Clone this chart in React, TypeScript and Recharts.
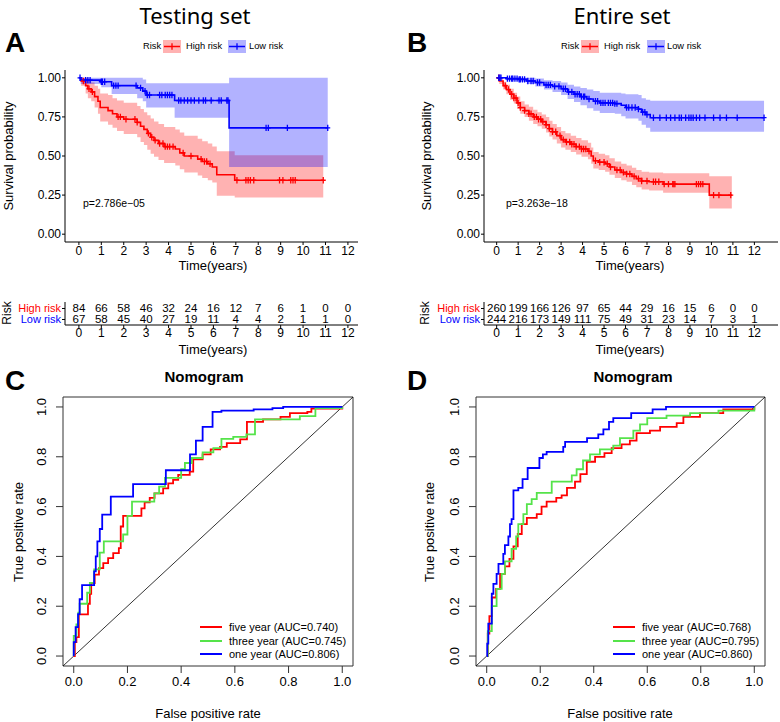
import React from "react";
import {
  ComposedChart,
  LineChart,
  Line,
  Area,
  Scatter,
  XAxis,
  YAxis,
  ReferenceArea,
  ReferenceLine,
} from "recharts";

// ---------- shared ticks ----------
const yearTicks = [0, 1, 2, 3, 4, 5, 6, 7, 8, 9, 10, 11, 12];
const survTicks = [0, 0.25, 0.5, 0.75, 1];
const rocTicks = [0, 0.2, 0.4, 0.6, 0.8, 1];

// ---------- A: testing set, KM ----------
const aHighT = [0, 0.1, 0.3, 0.4, 0.55, 0.7, 0.85, 0.95, 1.3, 1.5, 1.7, 2.0, 2.6, 2.75, 2.9, 3.05, 3.2, 3.35, 3.55, 3.8, 4.3, 4.5, 4.7, 5.3, 5.5, 5.75, 5.95, 6.15, 6.95, 10.9];
const aHighS = [1, 0.98, 0.95, 0.93, 0.91, 0.88, 0.85, 0.81, 0.79, 0.77, 0.75, 0.735, 0.715, 0.69, 0.67, 0.645, 0.62, 0.6, 0.58, 0.56, 0.545, 0.52, 0.5, 0.48, 0.465, 0.45, 0.43, 0.38, 0.345, 0.345];
const aHighLo = [1, 0.95, 0.9, 0.87, 0.85, 0.81, 0.77, 0.72, 0.7, 0.68, 0.66, 0.64, 0.62, 0.59, 0.57, 0.54, 0.515, 0.495, 0.475, 0.455, 0.44, 0.415, 0.395, 0.375, 0.36, 0.345, 0.33, 0.245, 0.235, 0.235];
const aHighUp = [1, 1, 1, 0.99, 0.97, 0.95, 0.93, 0.9, 0.89, 0.87, 0.855, 0.84, 0.82, 0.8, 0.78, 0.76, 0.74, 0.72, 0.705, 0.685, 0.67, 0.65, 0.63, 0.61, 0.595, 0.58, 0.56, 0.53, 0.505, 0.505];
const aHighCens = [0.2, 0.45, 0.6, 1.75, 1.85, 2.1, 2.5, 2.6, 3.1, 3.25, 3.4, 3.6, 3.75, 3.85, 3.95, 4.05, 4.2, 4.65, 5.0, 5.45, 5.6, 5.7, 5.85, 7.05, 7.45, 7.55, 7.65, 7.8, 8.95, 9.1, 9.45, 9.55, 9.65, 10.9];

const aLowT = [0, 0.08, 1.0, 1.46, 2.6, 2.85, 3.0, 4.27, 6.7, 11.1];
const aLowS = [1, 0.985, 0.975, 0.95, 0.936, 0.915, 0.89, 0.855, 0.68, 0.68];
const aLowLo = [1, 0.96, 0.94, 0.896, 0.87, 0.85, 0.81, 0.745, 0.43, 0.43];
const aLowUp = [1, 1, 1, 1, 1, 0.99, 0.966, 0.966, 1, 1];
const aLowCens = [0.05, 0.3, 0.4, 0.5, 1.0, 1.05, 1.15, 1.55, 1.65, 1.75, 2.55, 2.75, 2.95, 3.05, 3.15, 3.6, 3.7, 3.85, 3.95, 4.05, 4.15, 4.45, 4.55, 4.7, 4.85, 5.0, 5.15, 5.35, 5.55, 5.65, 5.9, 6.25, 6.35, 6.6, 6.65, 8.35, 8.45, 9.3, 11.1];

const aRiskHigh = [84, 66, 58, 46, 32, 24, 16, 12, 7, 6, 1, 0, 0];
const aRiskLow = [67, 58, 45, 40, 27, 19, 11, 4, 4, 2, 1, 1, 0];

// ---------- B: entire set, KM ----------
const bHighT = [0, 0.12, 0.3, 0.45, 0.62, 0.8, 0.95, 1.1, 1.3, 1.5, 1.7, 1.9, 2.1, 2.3, 2.45, 2.6, 2.8, 3.0, 3.2, 3.45, 3.7, 3.95, 4.25, 4.4, 4.5, 4.75, 5.05, 5.25, 5.5, 5.8, 6.05, 6.3, 6.5, 6.75, 7.1, 7.75, 9.9, 10.95];
const bHighS = [1, 0.98, 0.95, 0.925, 0.895, 0.87, 0.84, 0.81, 0.79, 0.77, 0.75, 0.735, 0.72, 0.7, 0.675, 0.655, 0.63, 0.605, 0.59, 0.575, 0.56, 0.545, 0.53, 0.5, 0.47, 0.46, 0.45, 0.43, 0.41, 0.395, 0.385, 0.37, 0.355, 0.34, 0.335, 0.32, 0.25, 0.25];
const bHighLo = [1, 0.96, 0.925, 0.895, 0.86, 0.835, 0.8, 0.77, 0.75, 0.725, 0.705, 0.69, 0.675, 0.65, 0.625, 0.605, 0.58, 0.555, 0.54, 0.525, 0.51, 0.495, 0.48, 0.45, 0.42, 0.41, 0.4, 0.38, 0.36, 0.345, 0.335, 0.315, 0.3, 0.285, 0.28, 0.265, 0.165, 0.165];
const bHighUp = [1, 1, 0.975, 0.955, 0.93, 0.905, 0.88, 0.85, 0.83, 0.815, 0.795, 0.78, 0.765, 0.75, 0.725, 0.705, 0.685, 0.66, 0.645, 0.63, 0.615, 0.6, 0.585, 0.555, 0.525, 0.515, 0.505, 0.485, 0.465, 0.45, 0.44, 0.425, 0.41, 0.4, 0.395, 0.39, 0.37, 0.37];
const bHighCens = [0.1, 0.4, 0.55, 0.7, 0.8, 0.9, 1.0, 1.1, 1.3, 1.5, 1.6, 1.75, 1.85, 1.95, 2.05, 2.15, 2.3, 2.45, 2.6, 2.75, 2.95, 3.1, 3.25, 3.4, 3.5, 3.6, 3.7, 3.85, 3.95, 4.05, 4.15, 4.3, 4.6, 4.8, 5.0, 5.15, 5.3, 5.6, 5.75, 5.9, 6.05, 6.2, 6.4, 6.6, 6.75, 7.0, 7.3, 7.4, 7.55, 7.8, 8.0, 8.2, 8.25, 8.3, 9.3, 9.4, 9.5, 9.6, 10.1, 10.35, 10.9];

const bLowT = [0, 0.45, 1.0, 1.4, 1.8, 2.2, 2.6, 3.0, 3.3, 3.6, 3.9, 4.2, 4.5, 4.8, 5.5, 5.8, 6.0, 6.6, 6.75, 6.95, 7.15, 12.45];
const bLowS = [1, 0.995, 0.99, 0.98, 0.97, 0.955, 0.945, 0.93, 0.91, 0.895, 0.88, 0.865, 0.85, 0.84, 0.835, 0.825, 0.81, 0.8, 0.78, 0.765, 0.745, 0.745];
const bLowLo = [1, 0.985, 0.975, 0.96, 0.945, 0.925, 0.91, 0.89, 0.865, 0.845, 0.825, 0.805, 0.79, 0.775, 0.77, 0.755, 0.74, 0.725, 0.7, 0.68, 0.655, 0.655];
const bLowUp = [1, 1, 1, 1, 0.995, 0.985, 0.98, 0.97, 0.955, 0.945, 0.935, 0.925, 0.915, 0.905, 0.905, 0.9, 0.895, 0.89, 0.87, 0.86, 0.853, 0.853];
const bLowCens = [0.1, 0.15, 0.2, 0.5, 0.6, 0.7, 0.75, 0.85, 0.95, 1.05, 1.1, 1.2, 1.3, 1.45, 1.6, 1.7, 1.9, 2.0, 2.3, 2.4, 2.5, 2.7, 2.9, 3.1, 3.2, 3.35, 3.5, 3.65, 3.75, 3.85, 3.95, 4.05, 4.1, 4.3, 4.6, 4.7, 4.85, 4.95, 5.05, 5.2, 5.3, 5.4, 5.5, 5.6, 6.05, 6.15, 6.3, 6.45, 6.6, 6.8, 6.9, 7.0, 7.3, 7.6, 7.9, 8.1, 8.3, 8.5, 8.6, 8.8, 8.95, 9.05, 9.15, 9.3, 9.45, 9.7, 10.1, 10.4, 10.7, 11.2, 12.45];

const bRiskHigh = [260, 199, 166, 126, 97, 65, 44, 29, 16, 15, 6, 0, 0];
const bRiskLow = [244, 216, 173, 149, 111, 75, 49, 31, 23, 14, 7, 3, 1];

// ---------- C: testing set ROC ----------
const cFiveX = [0, 0.004, 0.01, 0.019, 0.053, 0.06, 0.065, 0.078, 0.094, 0.11, 0.128, 0.147, 0.168, 0.175, 0.184, 0.252, 0.264, 0.283, 0.301, 0.333, 0.352, 0.37, 0.389, 0.432, 0.445, 0.48, 0.51, 0.545, 0.57, 0.62, 0.645, 0.705, 0.77, 0.805, 0.87, 0.885, 1.0];
const cFiveY = [0, 0.056, 0.076, 0.167, 0.21, 0.25, 0.293, 0.327, 0.353, 0.373, 0.393, 0.413, 0.433, 0.52, 0.563, 0.593, 0.617, 0.635, 0.653, 0.673, 0.693, 0.707, 0.727, 0.74, 0.79, 0.81, 0.83, 0.84, 0.855, 0.87, 0.94, 0.95, 0.96, 0.975, 0.98, 0.993, 1.0];
const cThreeX = [0, 0, 0.01, 0.017, 0.022, 0.05, 0.06, 0.076, 0.097, 0.112, 0.184, 0.2, 0.217, 0.3, 0.318, 0.34, 0.4, 0.414, 0.44, 0.48, 0.52, 0.55, 0.594, 0.643, 0.675, 0.842, 0.9, 1.0];
const cThreeY = [0, 0.081, 0.127, 0.174, 0.21, 0.254, 0.294, 0.348, 0.415, 0.46, 0.488, 0.563, 0.62, 0.653, 0.68, 0.715, 0.75, 0.775, 0.795, 0.818, 0.835, 0.872, 0.88, 0.89, 0.95, 0.963, 0.995, 1.0];
const cOneX = [0, 0, 0.007, 0.016, 0.022, 0.031, 0.076, 0.082, 0.088, 0.097, 0.106, 0.138, 0.221, 0.343, 0.433, 0.455, 0.48, 0.517, 0.55, 0.67, 0.74, 0.78, 1.0];
const cOneY = [0, 0.056, 0.116, 0.168, 0.228, 0.285, 0.34, 0.4, 0.46, 0.51, 0.568, 0.64, 0.69, 0.746, 0.81, 0.865, 0.92, 0.98, 0.985, 0.99, 0.995, 1.0, 1.0];

// ---------- D: entire set ROC ----------
const dFiveX = [0, 0.004, 0.01, 0.019, 0.035, 0.05, 0.068, 0.085, 0.1, 0.116, 0.131, 0.15, 0.187, 0.205, 0.224, 0.26, 0.28, 0.3, 0.33, 0.35, 0.374, 0.405, 0.44, 0.467, 0.504, 0.535, 0.56, 0.61, 0.648, 0.71, 0.735, 0.797, 0.884, 1.0];
const dFiveY = [0, 0.09, 0.16, 0.235, 0.27, 0.33, 0.36, 0.39, 0.44, 0.49, 0.53, 0.555, 0.57, 0.6, 0.62, 0.635, 0.645, 0.675, 0.7, 0.73, 0.78, 0.8, 0.815, 0.835, 0.85, 0.865, 0.895, 0.905, 0.92, 0.935, 0.96, 0.975, 0.99, 1.0];
const dThreeX = [0, 0.004, 0.019, 0.037, 0.056, 0.068, 0.093, 0.11, 0.118, 0.137, 0.15, 0.168, 0.187, 0.243, 0.318, 0.336, 0.36, 0.386, 0.423, 0.473, 0.498, 0.548, 0.573, 0.6, 0.672, 0.76, 0.866, 1.0];
const dThreeY = [0, 0.1, 0.2, 0.27, 0.33, 0.38, 0.43, 0.48, 0.53, 0.57, 0.61, 0.63, 0.655, 0.7, 0.725, 0.75, 0.785, 0.81, 0.83, 0.845, 0.875, 0.905, 0.93, 0.955, 0.965, 0.975, 0.985, 1.0];
const dOneX = [0, 0.002, 0.006, 0.019, 0.025, 0.037, 0.044, 0.062, 0.068, 0.081, 0.087, 0.093, 0.1, 0.118, 0.134, 0.153, 0.197, 0.21, 0.224, 0.286, 0.293, 0.375, 0.417, 0.436, 0.457, 0.473, 0.54, 0.62, 0.67, 1.0];
const dOneY = [0, 0.05, 0.13, 0.25, 0.29, 0.33, 0.37, 0.41, 0.445, 0.48, 0.53, 0.55, 0.665, 0.675, 0.71, 0.755, 0.795, 0.81, 0.82, 0.84, 0.86, 0.875, 0.89, 0.91, 0.94, 0.955, 0.975, 0.99, 1.0, 1.0];

// ---------- helpers ----------
const FONT = '"Liberation Sans", Arial, Helvetica, sans-serif';
const RED = "#FF0000";
const BLUE = "#0000FF";
const GREEN = "#55E34A";

const curve = (t: number[], s: number[], lo: number[], up: number[]) =>
  t.map((v, i) => ({ t: v, s: s[i], band: [lo[i], up[i]] }));

const survAt = (t: number[], s: number[], x: number) => {
  let v = s[0];
  for (let i = 0; i < t.length; i++) if (t[i] <= x) v = s[i];
  return v;
};

const censor = (ct: number[], t: number[], s: number[]) =>
  ct.map((x) => ({ t: x, s: survAt(t, s, x) }));

const riskRows = (high: number[], low: number[]) => [
  ...high.map((n, i) => ({ t: yearTicks[i], g: 2, n })),
  ...low.map((n, i) => ({ t: yearTicks[i], g: 1, n })),
];

const roc = (x: number[], y: number[]) => x.map((v, i) => ({ x: v, y: y[i] }));

const plus = (color: string) => (props: any) => {
  const { cx, cy } = props;
  if (cx == null || cy == null) return <g />;
  return (
    <path
      d={`M${cx - 2.5},${cy}H${cx + 2.5}M${cx},${cy - 3.2}V${cy + 3.2}`}
      stroke={color}
      strokeWidth={1.3}
      fill="none"
    />
  );
};

const numText = (props: any) => {
  const { cx, cy, payload } = props;
  if (cx == null || cy == null) return <g />;
  return (
    <text x={cx} y={cy} textAnchor="middle" dominantBaseline="central" fontSize={11.5} fontFamily={FONT} fill="#000">
      {payload.n}
    </text>
  );
};

const riskTick = (props: any) => {
  const { x, y, payload } = props;
  const high = payload.value === 2;
  return (
    <text x={x} y={y} textAnchor="end" dominantBaseline="central" fontSize={11} fontFamily={FONT} fill={high ? RED : BLUE}>
      {high ? "High risk" : "Low risk"}
    </text>
  );
};

const rotTick = (props: any) => {
  const { x, y, payload } = props;
  return (
    <text
      x={x}
      y={y}
      transform={`rotate(-90 ${x} ${y})`}
      textAnchor="middle"
      dominantBaseline="central"
      fontSize={13}
      fontFamily={FONT}
      fill="#000"
    >
      {Number(payload.value).toFixed(1)}
    </text>
  );
};

type TxtProps = {
  x: number;
  y: number;
  text: string;
  size: number;
  anchor?: "start" | "middle" | "end";
  rotate?: number;
  color?: string;
  bold?: boolean;
  font?: string;
};

const Txt = ({ x, y, text, size, anchor = "middle", rotate = 0, color = "#000", bold = false, font = FONT }: TxtProps) => {
  const tx = anchor === "middle" ? "-50%" : anchor === "end" ? "-100%" : "0";
  return (
    <div
      style={{
        position: "absolute",
        left: x,
        top: y,
        transform: `translate(${tx},-50%)` + (rotate ? ` rotate(${rotate}deg)` : ""),
        fontSize: size,
        fontFamily: font,
        fontWeight: bold ? 700 : 400,
        color,
        whiteSpace: "nowrap",
        lineHeight: 1,
      }}
    >
      {text}
    </div>
  );
};

const KeyBox = ({ x, color }: { x: number; color: string }) => (
  <svg style={{ position: "absolute", left: x, top: 40 }} width={18} height={13}>
    <rect width={18} height={13} fill={color} fillOpacity={0.3} />
    <line x1={1} x2={17} y1={6.5} y2={6.5} stroke={color} strokeWidth={1.5} />
    <line x1={9} x2={9} y1={3.3} y2={9.7} stroke={color} strokeWidth={1.3} />
  </svg>
);

// ---------- KM panel ----------
type KMProps = {
  left: number;
  mLeft: number;
  mRight: number;
  xDomain: [number, number];
  high: any[];
  low: any[];
  highC: any[];
  lowC: any[];
};

const KMChart = ({ left, mLeft, mRight, xDomain, high, low, highC, lowC }: KMProps) => (
  <div style={{ position: "absolute", left, top: 0 }}>
    <ComposedChart width={390} height={280} margin={{ top: 70, right: mRight, bottom: 8, left: mLeft }}>
      <XAxis
        type="number"
        dataKey="t"
        domain={xDomain}
        ticks={yearTicks}
        allowDataOverflow
        interval={0}
        height={30}
        tickSize={3}
        tickMargin={1}
        axisLine={{ stroke: "#000" }}
        tickLine={{ stroke: "#000" }}
        tick={{ fill: "#000", fontSize: 12, fontFamily: FONT }}
      />
      <YAxis
        type="number"
        dataKey="s"
        domain={[-0.05, 1.05]}
        ticks={survTicks}
        allowDataOverflow
        interval={0}
        width={65}
        tickSize={3}
        tickMargin={1}
        tickFormatter={(v: number) => v.toFixed(2)}
        axisLine={{ stroke: "#000" }}
        tickLine={{ stroke: "#000" }}
        tick={{ fill: "#000", fontSize: 12, fontFamily: FONT }}
      />
      <Area data={high} dataKey="band" type="stepAfter" fill={RED} fillOpacity={0.3} stroke="none" activeDot={false} isAnimationActive={false} />
      <Area data={low} dataKey="band" type="stepAfter" fill={BLUE} fillOpacity={0.3} stroke="none" activeDot={false} isAnimationActive={false} />
      <Line data={high} dataKey="s" type="stepAfter" stroke={RED} strokeWidth={1.6} dot={false} activeDot={false} isAnimationActive={false} />
      <Line data={low} dataKey="s" type="stepAfter" stroke={BLUE} strokeWidth={1.6} dot={false} activeDot={false} isAnimationActive={false} />
      <Scatter data={highC} dataKey="s" shape={plus(RED)} isAnimationActive={false} />
      <Scatter data={lowC} dataKey="s" shape={plus(BLUE)} isAnimationActive={false} />
    </ComposedChart>
  </div>
);

// ---------- risk table ----------
type RiskProps = { left: number; mLeft: number; mRight: number; xDomain: [number, number]; rows: any[] };

const RiskTable = ({ left, mLeft, mRight, xDomain, rows }: RiskProps) => (
  <div style={{ position: "absolute", left, top: 290 }}>
    <ComposedChart width={390} height={70} margin={{ top: 12, right: mRight, bottom: 0, left: mLeft }}>
      <XAxis
        type="number"
        dataKey="t"
        domain={xDomain}
        ticks={yearTicks}
        allowDataOverflow
        interval={0}
        height={35}
        tickSize={3}
        tickMargin={0}
        axisLine={{ stroke: "#000" }}
        tickLine={{ stroke: "#000" }}
        tick={{ fill: "#000", fontSize: 12, fontFamily: FONT }}
      />
      <YAxis
        type="number"
        dataKey="g"
        domain={[0.5, 2.59]}
        ticks={[1, 2]}
        allowDataOverflow
        interval={0}
        width={65}
        tickSize={3}
        tickMargin={1}
        axisLine={{ stroke: "#000" }}
        tickLine={{ stroke: "#000" }}
        tick={riskTick}
      />
      <Scatter data={rows} dataKey="g" shape={numText} isAnimationActive={false} />
    </ComposedChart>
  </div>
);

// ---------- ROC panel ----------
type RocProps = { left: number; mLeft: number; mRight: number; five: any[]; three: any[]; one: any[] };

const RocChart = ({ left, mLeft, mRight, five, three, one }: RocProps) => (
  <div style={{ position: "absolute", left, top: 370 }}>
    <LineChart width={390} height={352} margin={{ top: 27, right: mRight, bottom: 0, left: mLeft }}>
      <XAxis
        type="number"
        dataKey="x"
        domain={[-0.04, 1.04]}
        ticks={rocTicks}
        allowDataOverflow
        interval={0}
        height={56}
        tickSize={7}
        tickMargin={4}
        axisLine={false}
        tickLine={{ stroke: "#333" }}
        tickFormatter={(v: number) => v.toFixed(1)}
        tick={{ fill: "#000", fontSize: 13, fontFamily: FONT }}
      />
      <YAxis
        type="number"
        dataKey="y"
        domain={[-0.04, 1.04]}
        ticks={rocTicks}
        allowDataOverflow
        interval={0}
        width={55}
        tickSize={7}
        tickMargin={14}
        axisLine={false}
        tickLine={{ stroke: "#333" }}
        tick={rotTick}
      />
      <ReferenceArea x1={-0.04} x2={1.04} y1={-0.04} y2={1.04} fill="none" stroke="#333" strokeWidth={1} ifOverflow="visible" />
      <ReferenceLine
        segment={[
          { x: -0.04, y: -0.04 },
          { x: 1.04, y: 1.04 },
        ]}
        stroke="#000"
        strokeWidth={0.8}
        ifOverflow="visible"
      />
      <Line data={five} dataKey="y" type="stepAfter" stroke={RED} strokeWidth={1.8} dot={false} activeDot={false} isAnimationActive={false} />
      <Line data={three} dataKey="y" type="stepAfter" stroke={GREEN} strokeWidth={1.8} dot={false} activeDot={false} isAnimationActive={false} />
      <Line data={one} dataKey="y" type="stepAfter" stroke={BLUE} strokeWidth={1.8} dot={false} activeDot={false} isAnimationActive={false} />
    </LineChart>
  </div>
);

const RocLegend = ({ lineX, labels }: { lineX: number; labels: string[] }) => {
  const rows = [627, 640.5, 654];
  const colors = [RED, GREEN, BLUE];
  return (
    <>
      {labels.map((l, i) => (
        <React.Fragment key={l}>
          <div style={{ position: "absolute", left: lineX, top: rows[i] - 1, width: 22, height: 2, background: colors[i] }} />
          <Txt x={lineX + 29} y={rows[i]} text={l} size={11} anchor="start" />
        </React.Fragment>
      ))}
    </>
  );
};

const KM_A_DOMAIN: [number, number] = [-0.62, 12.45];
const KM_B_DOMAIN: [number, number] = [-0.59, 13.1];

export default function App() {
  return (
    <div style={{ position: "absolute", left: 0, top: 0, width: 780, height: 722, background: "#fff", overflow: "hidden" }}>
      {/* titles and panel letters */}
      <Txt x={195} y={15} text="Testing set" size={22} font='"Noto Sans", sans-serif' />
      <Txt x={622} y={15} text="Entire set" size={22} font='"Noto Sans", sans-serif' />
      <Txt x={5} y={43} text="A" size={28} bold anchor="start" />
      <Txt x={407} y={43} text="B" size={28} bold anchor="start" />
      <Txt x={5} y={381} text="C" size={28} bold anchor="start" />
      <Txt x={407} y={381} text="D" size={28} bold anchor="start" />

      {/* KM legends */}
      <Txt x={143} y={46.5} text="Risk" size={9.3} anchor="start" />
      <KeyBox x={163} color={RED} />
      <Txt x={186} y={46.5} text="High risk" size={9.3} anchor="start" />
      <KeyBox x={228} color={BLUE} />
      <Txt x={249} y={46.5} text="Low risk" size={9.3} anchor="start" />

      <Txt x={561} y={46.5} text="Risk" size={9.3} anchor="start" />
      <KeyBox x={581} color={RED} />
      <Txt x={604} y={46.5} text="High risk" size={9.3} anchor="start" />
      <KeyBox x={647} color={BLUE} />
      <Txt x={667} y={46.5} text="Low risk" size={9.3} anchor="start" />

      <KMChart
        left={0}
        mLeft={0}
        mRight={32}
        xDomain={KM_A_DOMAIN}
        high={curve(aHighT, aHighS, aHighLo, aHighUp)}
        low={curve(aLowT, aLowS, aLowLo, aLowUp)}
        highC={censor(aHighCens, aHighT, aHighS)}
        lowC={censor(aLowCens, aLowT, aLowS)}
      />
      <KMChart
        left={390}
        mLeft={29}
        mRight={2}
        xDomain={KM_B_DOMAIN}
        high={curve(bHighT, bHighS, bHighLo, bHighUp)}
        low={curve(bLowT, bLowS, bLowLo, bLowUp)}
        highC={censor(bHighCens, bHighT, bHighS)}
        lowC={censor(bLowCens, bLowT, bLowS)}
      />

      <Txt x={8} y={156} text="Survival probability" size={13} rotate={-90} />
      <Txt x={426} y={156} text="Survival probability" size={13} rotate={-90} />
      <Txt x={83} y={203} text="p=2.786e−05" size={10.5} anchor="start" />
      <Txt x={506} y={203} text="p=3.263e−18" size={10.5} anchor="start" />
      <Txt x={213} y={265} text="Time(years)" size={13} />
      <Txt x={630} y={265} text="Time(years)" size={13} />

      {/* risk tables */}
      <RiskTable left={0} mLeft={0} mRight={32} xDomain={KM_A_DOMAIN} rows={riskRows(aRiskHigh, aRiskLow)} />
      <RiskTable left={390} mLeft={29} mRight={2} xDomain={KM_B_DOMAIN} rows={riskRows(bRiskHigh, bRiskLow)} />
      <Txt x={7} y={313} text="Risk" size={12} rotate={-90} />
      <Txt x={425} y={313} text="Risk" size={12} rotate={-90} />
      <Txt x={213} y={349} text="Time(years)" size={13} />
      <Txt x={630} y={349} text="Time(years)" size={13} />

      {/* ROC panels */}
      <Txt x={204} y={376} text="Nomogram" size={15} bold />
      <Txt x={633} y={376} text="Nomogram" size={15} bold />
      <RocChart left={0} mLeft={8} mRight={37} five={roc(cFiveX, cFiveY)} three={roc(cThreeX, cThreeY)} one={roc(cOneX, cOneY)} />
      <RocChart left={390} mLeft={31} mRight={15} five={roc(dFiveX, dFiveY)} three={roc(dThreeX, dThreeY)} one={roc(dOneX, dOneY)} />
      <Txt x={18} y={532} text="True positive rate" size={13} rotate={-90} />
      <Txt x={429} y={532} text="True positive rate" size={13} rotate={-90} />
      <Txt x={208} y={713} text="False positive rate" size={13} />
      <Txt x={620} y={713} text="False positive rate" size={13} />
      <RocLegend lineX={200} labels={["five year (AUC=0.740)", "three year (AUC=0.745)", "one year (AUC=0.806)"]} />
      <RocLegend lineX={613} labels={["five year (AUC=0.768)", "three year (AUC=0.795)", "one year (AUC=0.860)"]} />
    </div>
  );
}
